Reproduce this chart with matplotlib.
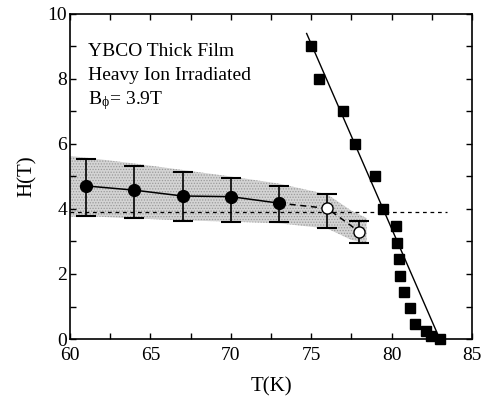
import matplotlib.pyplot as plt
import numpy as np
from matplotlib.ticker import MultipleLocator

plt.rcParams['font.family'] = ['Liberation Serif', 'DejaVu Serif']
plt.rcParams['mathtext.fontset'] = 'stix'
plt.rcParams['hatch.linewidth'] = 0.6

# filled circles (solid connecting line)
t_fill = [61, 64, 67, 70, 73]
h_fill = [4.71, 4.58, 4.40, 4.38, 4.18]
h_fill_hi = [5.53, 5.33, 5.15, 4.94, 4.72]
h_fill_lo = [3.78, 3.71, 3.64, 3.61, 3.59]

# open circles (dashed connecting line)
t_open = [76, 78]
h_open = [4.02, 3.30]
h_open_hi = [4.45, 3.63]
h_open_lo = [3.40, 2.94]

# squares
t_sq = [75.0, 75.5, 77.0, 77.7, 79.0, 79.5, 80.3, 80.33, 80.48, 80.5,
        80.75, 81.12, 81.47, 82.16, 82.43, 83.0]
h_sq = [9.0, 8.0, 7.0, 6.0, 5.0, 4.0, 3.48, 2.96, 2.45, 1.95,
        1.46, 0.96, 0.45, 0.25, 0.09, 0.0]

# linear fit through squares
t_fit = [74.72, 83.0]
h_fit = [9.4, 0.0]

# shaded band
t_band = [60, 61, 64, 67, 70, 73, 76, 77.5, 78.45]
band_hi = [5.63, 5.58, 5.40, 5.20, 5.00, 4.78, 4.45, 3.95, 3.72]
band_lo = [3.76, 3.78, 3.71, 3.65, 3.61, 3.56, 3.40, 3.05, 2.95]

b_phi = 3.9

fig = plt.figure(figsize=(4.85, 4.03), dpi=100)
ax = fig.add_axes([0.1443, 0.1588, 0.8287, 0.8065])

ax.fill_between(t_band, band_lo, band_hi, facecolor='#d4d4d4', edgecolor='#9a9a9a',
                hatch='......', lw=0, zorder=1)
ax.axhline(b_phi, xmin=0, xmax=(83.45 - 60) / 25, color='k', ls=(0, (3, 3)), lw=0.9, zorder=2)

ax.errorbar(t_fill, h_fill,
            yerr=[np.subtract(h_fill, h_fill_lo), np.subtract(h_fill_hi, h_fill)],
            fmt='o', color='k', ms=8.5, capsize=7, capthick=1.5, elinewidth=1.2, zorder=4)
ax.plot(t_fill, h_fill, '-', color='k', lw=1.1, zorder=3)
ax.plot([t_fill[-1]] + t_open, [h_fill[-1]] + h_open, color='k', ls=(0, (4, 3)), lw=1.1, zorder=3)
ax.errorbar(t_open, h_open,
            yerr=[np.subtract(h_open, h_open_lo), np.subtract(h_open_hi, h_open)],
            fmt='o', mfc='white', mec='k', color='k', ms=8, capsize=7, capthick=1.5,
            elinewidth=1.2, zorder=4)

ax.plot(t_fit, h_fit, '-', color='k', lw=1.0, zorder=3)
ax.plot(t_sq, h_sq, 's', color='k', ms=7.5, zorder=5, clip_on=False)

ax.set_xlim(60, 85)
ax.set_ylim(0, 10)
ax.xaxis.set_major_locator(MultipleLocator(5))
ax.xaxis.set_minor_locator(MultipleLocator(2.5))
ax.yaxis.set_major_locator(MultipleLocator(2))
ax.yaxis.set_minor_locator(MultipleLocator(1))
ax.tick_params(which='both', direction='in', top=True, right=True, labelsize=14, pad=2)
ax.tick_params(axis='x', pad=6)
ax.tick_params(which='major', length=4, width=1)
ax.tick_params(which='minor', length=4, width=1)
for s in ax.spines.values():
    s.set_linewidth(1.2)

ax.set_xlabel('T(K)', fontsize=15, labelpad=9)
ax.set_ylabel('H(T)', fontsize=15, labelpad=8)

ax.text(61.1, 8.85, 'YBCO Thick Film', fontsize=14, va='center')
ax.text(61.1, 8.1, 'Heavy Ion Irradiated', fontsize=14, va='center')
ax.text(61.1, 7.35, r'B$_\mathregular{\phi}$= 3.9T', fontsize=14, va='center')

fig.savefig('out.png', dpi=100)
